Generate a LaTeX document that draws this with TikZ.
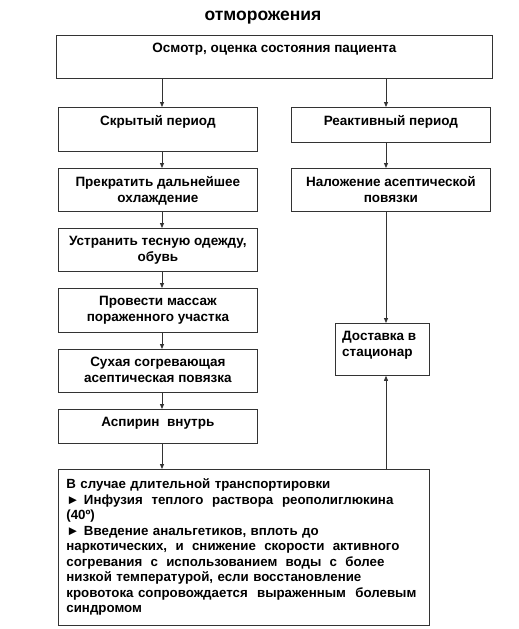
\documentclass[tikz,border=0pt]{standalone}
\usepackage{fontspec}
\setmainfont{Liberation Sans}
\usetikzlibrary{arrows.meta}

\begin{document}
\begin{tikzpicture}[x=1pt, y=-1pt,
    stepbox/.style={draw=black!80, line width=0.8pt, anchor=north west, inner sep=0pt},
    txt/.style={anchor=north, align=center, inner sep=0pt, yshift=-8pt, font=\bfseries\fontsize{13.5}{16}\selectfont},
    arr/.style={-{Triangle[length=5pt, width=4pt]}, draw=black!80, line width=0.8pt}]
    \useasboundingbox (0,0) rectangle (519,629);

    \node[font=\bfseries\fontsize{17.5}{20}\selectfont] (title) at (263,18) {отморожения};

    % Top box
    \node[stepbox, minimum width=436pt, minimum height=43pt, label={[txt]north:{Осмотр, оценка состояния пациента}}] (osm) at (56,35) {};

    % Left column
    \node[stepbox, minimum width=199pt, minimum height=44pt, label={[txt]north:{Скрытый период}}] (skr) at (58,107) {};
    \node[stepbox, minimum width=199pt, minimum height=43pt, label={[txt]north:{Прекратить дальнейшее\\охлаждение}}] (prek) at (58,168) {};
    \node[stepbox, minimum width=199pt, minimum height=43pt, label={[txt]north:{Устранить тесную одежду,\\обувь}}] (ustr) at (58,228) {};
    \node[stepbox, minimum width=199pt, minimum height=44pt, label={[txt]north:{Провести массаж\\пораженного участка}}] (prov) at (58,288) {};
    \node[stepbox, minimum width=199pt, minimum height=43pt, label={[txt]north:{Сухая согревающая\\асептическая повязка}}] (such) at (58,349) {};
    \node[stepbox, minimum width=199pt, minimum height=34pt, label={[txt]north:{Аспирин~~внутрь}}] (asp) at (58,409) {};

    % Right column
    \node[stepbox, minimum width=199pt, minimum height=35pt, label={[txt]north:{Реактивный период}}] (reakt) at (291,107) {};
    \node[stepbox, minimum width=199pt, minimum height=43pt, label={[txt]north:{Наложение асептической\\повязки}}] (nal) at (291,168) {};
    \node[stepbox, minimum width=94pt, minimum height=52pt, label={[txt, anchor=north west, align=left, xshift=7pt]north west:{Доставка в\\стационар}}] (dost) at (335,323) {};

    % Transport box
    \node[stepbox, text width=355pt, minimum height=156pt, inner xsep=8pt, align=left, font=\bfseries\fontsize{13.3}{15.5}\selectfont] (big) at (58,469) {%
        В случае длительной транспортировки\\
        \makebox[327pt][s]{► Инфузия \hfil теплого \hfil раствора \hfil реополиглюкина}\\
        (40º)\\
        ► Введение анальгетиков, вплоть до\\
        \makebox[333pt][s]{наркотических, \hfil и \hfil снижение \hfil скорости \hfil активного}\\
        \makebox[318pt][s]{согревания \hfil с \hfil использованием \hfil воды \hfil с \hfil более}\\
        низкой температурой, если восстановление\\
        \makebox[350pt][s]{кровотока сопровождается \hfil выраженным \hfil болевым}\\
        синдромом};

    \coordinate (lx) at (162,0);
    \coordinate (rx) at (386,0);

    \draw[arr] (osm.south -| lx) -- (skr.north -| lx);
    \draw[arr] (osm.south -| rx) -- (reakt.north -| rx);
    \draw[arr] (skr.south -| lx) -- (prek.north -| lx);
    \draw[arr] (prek.south -| lx) -- (ustr.north -| lx);
    \draw[arr] (ustr.south -| lx) -- (prov.north -| lx);
    \draw[arr] (prov.south -| lx) -- (such.north -| lx);
    \draw[arr] (such.south -| lx) -- (asp.north -| lx);
    \draw[arr] (asp.south -| lx) -- (big.north -| lx);
    \draw[arr] (reakt.south -| rx) -- (nal.north -| rx);
    \draw[arr] (nal.south -| rx) -- (dost.north -| rx); % to hospital
    \draw[arr] (big.north -| rx) -- (dost.south -| rx);
\end{tikzpicture}
\end{document}
